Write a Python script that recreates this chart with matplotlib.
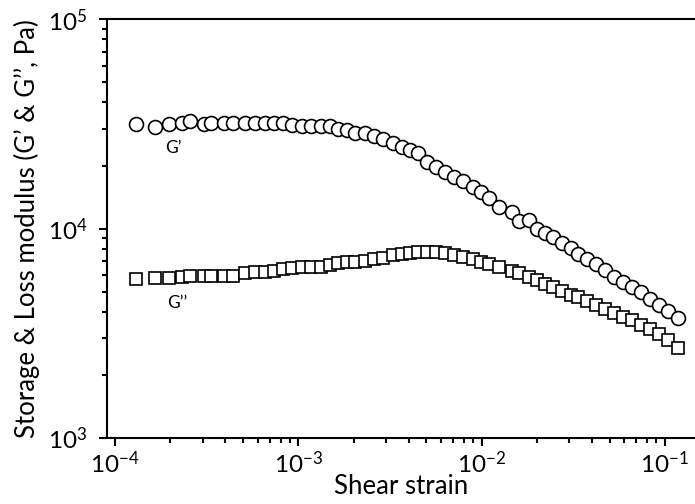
import matplotlib
matplotlib.use("Agg")
import matplotlib.pyplot as plt
from matplotlib.ticker import LogLocator, NullFormatter

# ---- data ----
strain = [1.30e-4, 1.65e-4, 1.97e-4, 2.32e-4, 2.57e-4, 3.06e-4, 3.34e-4, 3.93e-4,
          4.40e-4, 5.12e-4, 5.80e-4, 6.58e-4, 7.37e-4, 8.25e-4, 9.24e-4, 1.05e-3,
          1.17e-3, 1.33e-3, 1.49e-3, 1.65e-3, 1.84e-3, 2.04e-3, 2.31e-3, 2.59e-3,
          2.90e-3, 3.29e-3, 3.68e-3, 4.07e-3, 4.50e-3, 5.04e-3, 5.64e-3, 6.31e-3,
          7.07e-3, 7.91e-3, 8.98e-3, 9.92e-3, 1.10e-2, 1.24e-2, 1.47e-2, 1.60e-2,
          1.81e-2, 2.01e-2, 2.22e-2, 2.45e-2, 2.75e-2, 3.07e-2, 3.36e-2, 3.76e-2,
          4.21e-2, 4.71e-2, 5.27e-2, 5.91e-2, 6.61e-2, 7.41e-2, 8.29e-2, 9.29e-2,
          1.04e-1, 1.18e-1]

G_storage = [3.16e4, 3.05e4, 3.16e4, 3.19e4, 3.26e4, 3.16e4, 3.19e4, 3.19e4,
             3.19e4, 3.19e4, 3.19e4, 3.19e4, 3.19e4, 3.19e4, 3.12e4, 3.09e4,
             3.09e4, 3.09e4, 3.09e4, 2.99e4, 2.95e4, 2.86e4, 2.86e4, 2.77e4,
             2.68e4, 2.56e4, 2.45e4, 2.37e4, 2.30e4, 2.08e4, 1.97e4, 1.86e4,
             1.76e4, 1.69e4, 1.58e4, 1.50e4, 1.40e4, 1.27e4, 1.20e4, 1.09e4,
             1.10e4, 9.96e3, 9.53e3, 9.12e3, 8.54e3, 8.08e3, 7.56e3, 7.16e3,
             6.78e3, 6.35e3, 5.88e3, 5.56e3, 5.27e3, 4.98e3, 4.61e3, 4.32e3,
             4.04e3, 3.75e3]

G_loss = [5.75e3, 5.81e3, 5.81e3, 5.88e3, 5.94e3, 5.94e3, 5.94e3, 5.94e3,
          5.94e3, 6.14e3, 6.21e3, 6.21e3, 6.28e3, 6.42e3, 6.49e3, 6.56e3,
          6.56e3, 6.56e3, 6.70e3, 6.85e3, 6.93e3, 6.93e3, 7.01e3, 7.16e3,
          7.24e3, 7.48e3, 7.56e3, 7.65e3, 7.73e3, 7.73e3, 7.73e3, 7.65e3,
          7.48e3, 7.32e3, 7.16e3, 6.93e3, 6.78e3, 6.56e3, 6.28e3, 6.14e3,
          5.88e3, 5.69e3, 5.44e3, 5.27e3, 5.04e3, 4.82e3, 4.72e3, 4.51e3,
          4.32e3, 4.13e3, 3.96e3, 3.79e3, 3.66e3, 3.47e3, 3.32e3, 3.14e3,
          2.94e3, 2.69e3]

x_ticks = [1e-4, 1e-3, 1e-2, 1e-1]
x_ticklabels = [r"$10^{-4}$", r"$10^{-3}$", r"$10^{-2}$", r"$10^{-1}$"]
y_ticks = [1e3, 1e4, 1e5]
y_ticklabels = [r"$10^{3}$", r"$10^{4}$", r"$10^{5}$"]

# ---- style ----
plt.rcParams['font.family'] = ['Lato', 'DejaVu Sans']
plt.rcParams['mathtext.fontset'] = 'custom'
plt.rcParams['mathtext.rm'] = 'Lato'
plt.rcParams['mathtext.it'] = 'Lato'
plt.rcParams['mathtext.bf'] = 'Lato'

fig = plt.figure(figsize=(6.95, 5.04), dpi=100)
ax = fig.add_axes([0.154, 0.131, 0.846, 0.831])

ax.plot(strain, G_storage, linestyle='none', marker='o', markersize=10,
        markerfacecolor='white', markeredgecolor='black', markeredgewidth=1.2)
ax.plot(strain, G_loss, linestyle='none', marker='s', markersize=9,
        markerfacecolor='white', markeredgecolor='black', markeredgewidth=1.2)

ax.set_xscale('log')
ax.set_yscale('log')
ax.set_xlim(9.04e-5, 0.146)
ax.set_ylim(1e3, 1e5)

ax.set_xticks(x_ticks)
ax.set_xticklabels(x_ticklabels)
ax.set_yticks(y_ticks)
ax.set_yticklabels(y_ticklabels)
ax.xaxis.set_minor_locator(LogLocator(base=10, subs=range(2, 10), numticks=20))
ax.yaxis.set_minor_locator(LogLocator(base=10, subs=range(2, 10), numticks=20))
ax.xaxis.set_minor_formatter(NullFormatter())
ax.yaxis.set_minor_formatter(NullFormatter())

for side in ['left', 'top', 'bottom']:
    ax.spines[side].set_linewidth(1.5)
ax.spines['right'].set_visible(False)

ax.tick_params(which='major', direction='out', length=6, width=1.5,
               labelsize=17.5, pad=3, top=False, right=False)
ax.tick_params(axis='y', which='major', pad=8)
ax.tick_params(which='minor', direction='out', length=3.5, width=1.5,
               top=False, right=False)

ax.set_xlabel("Shear strain", fontsize=18.5, labelpad=-2)
ax.set_ylabel("Storage & Loss modulus (G\u2019 & G\u2019\u2019, Pa)", fontsize=18.5,
              labelpad=6)

ax.text(1.87e-4, 2.43e4, "G\u2019", fontsize=12.5, ha='left', va='center')
ax.text(1.92e-4, 4.42e3, "G\u2019\u2019", fontsize=12.5, ha='left', va='center')

fig.savefig("out.png", dpi=100)
